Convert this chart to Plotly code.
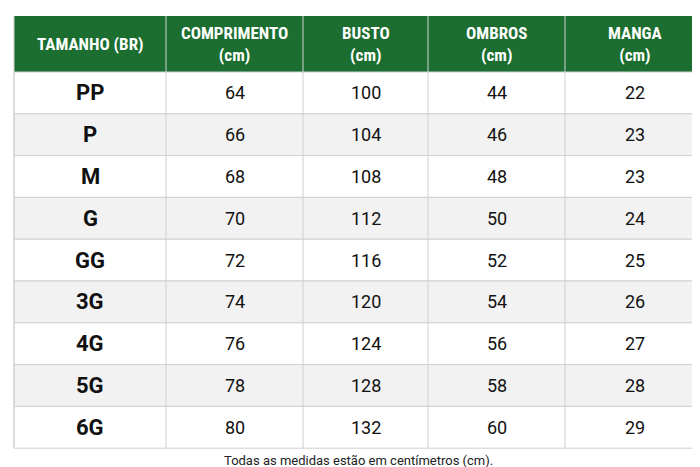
import plotly.graph_objects as go

headers = ["<b>TAMANHO (BR)</b>", "<b>COMPRIMENTO<br>(cm)</b>", "<b>BUSTO<br>(cm)</b>", "<b>OMBROS<br>(cm)</b>", "<b>MANGA<br>(cm)</b>"]
sizes = ["PP", "P", "M", "G", "GG", "3G", "4G", "5G", "6G"]
comprimento = [64, 66, 68, 70, 72, 74, 76, 78, 80]
busto = [100, 104, 108, 112, 116, 120, 124, 128, 132]
ombros = [44, 46, 48, 50, 52, 54, 56, 58, 60]
manga = [22, 23, 23, 24, 25, 26, 27, 28, 29]

green = "#1b6e30"
line = "#d0d0d0"
col_edges = [6, 158, 295, 420, 557, 696]
top, head_h, row_h = 8, 56, 41.8

fig = go.Figure()
shapes, anns = [], []
# header
shapes.append(dict(type="rect", x0=col_edges[0], x1=col_edges[-1], y0=top, y1=top + head_h,
                   fillcolor=green, line=dict(width=0), layer="below"))
for j, h in enumerate(headers):
    xc = (col_edges[j] + col_edges[j + 1]) / 2
    anns.append(dict(x=xc, y=top + head_h / 2, text=h, showarrow=False, align="center",
                     font=dict(family="Roboto Condensed, Roboto", size=17, color="white")))
cols = [sizes, comprimento, busto, ombros, manga]
y0 = top + head_h
for i in range(len(sizes)):
    ya, yb = y0 + i * row_h, y0 + (i + 1) * row_h
    shapes.append(dict(type="rect", x0=col_edges[0], x1=col_edges[-1], y0=ya, y1=yb,
                       fillcolor="#ffffff" if i % 2 == 0 else "#f2f2f2",
                       line=dict(color=line, width=1), layer="below"))
    for j, col in enumerate(cols):
        xc = (col_edges[j] + col_edges[j + 1]) / 2
        txt = f"<b>{col[i]}</b>" if j == 0 else str(col[i])
        anns.append(dict(x=xc, y=(ya + yb) / 2, text=txt, showarrow=False,
                         font=dict(family="Roboto", size=22 if j == 0 else 18, color="#111111")))
y_end = y0 + len(sizes) * row_h
for xe in col_edges:
    shapes.append(dict(type="line", x0=xe, x1=xe, y0=top if xe not in (6, 696) else top, y1=y_end,
                       line=dict(color=line, width=1)))
anns.append(dict(x=350, y=452, text="Todas as medidas estão em centímetros (cm).", showarrow=False,
                 font=dict(family="Roboto", size=13, color="#222222")))

fig.update_layout(width=700, height=467, margin=dict(l=0, r=0, t=0, b=0),
                  paper_bgcolor="white", plot_bgcolor="white",
                  xaxis=dict(range=[0, 700], visible=False, fixedrange=True),
                  yaxis=dict(range=[467, 0], visible=False, fixedrange=True),
                  shapes=shapes, annotations=anns, showlegend=False)
fig.write_html("out.html")
